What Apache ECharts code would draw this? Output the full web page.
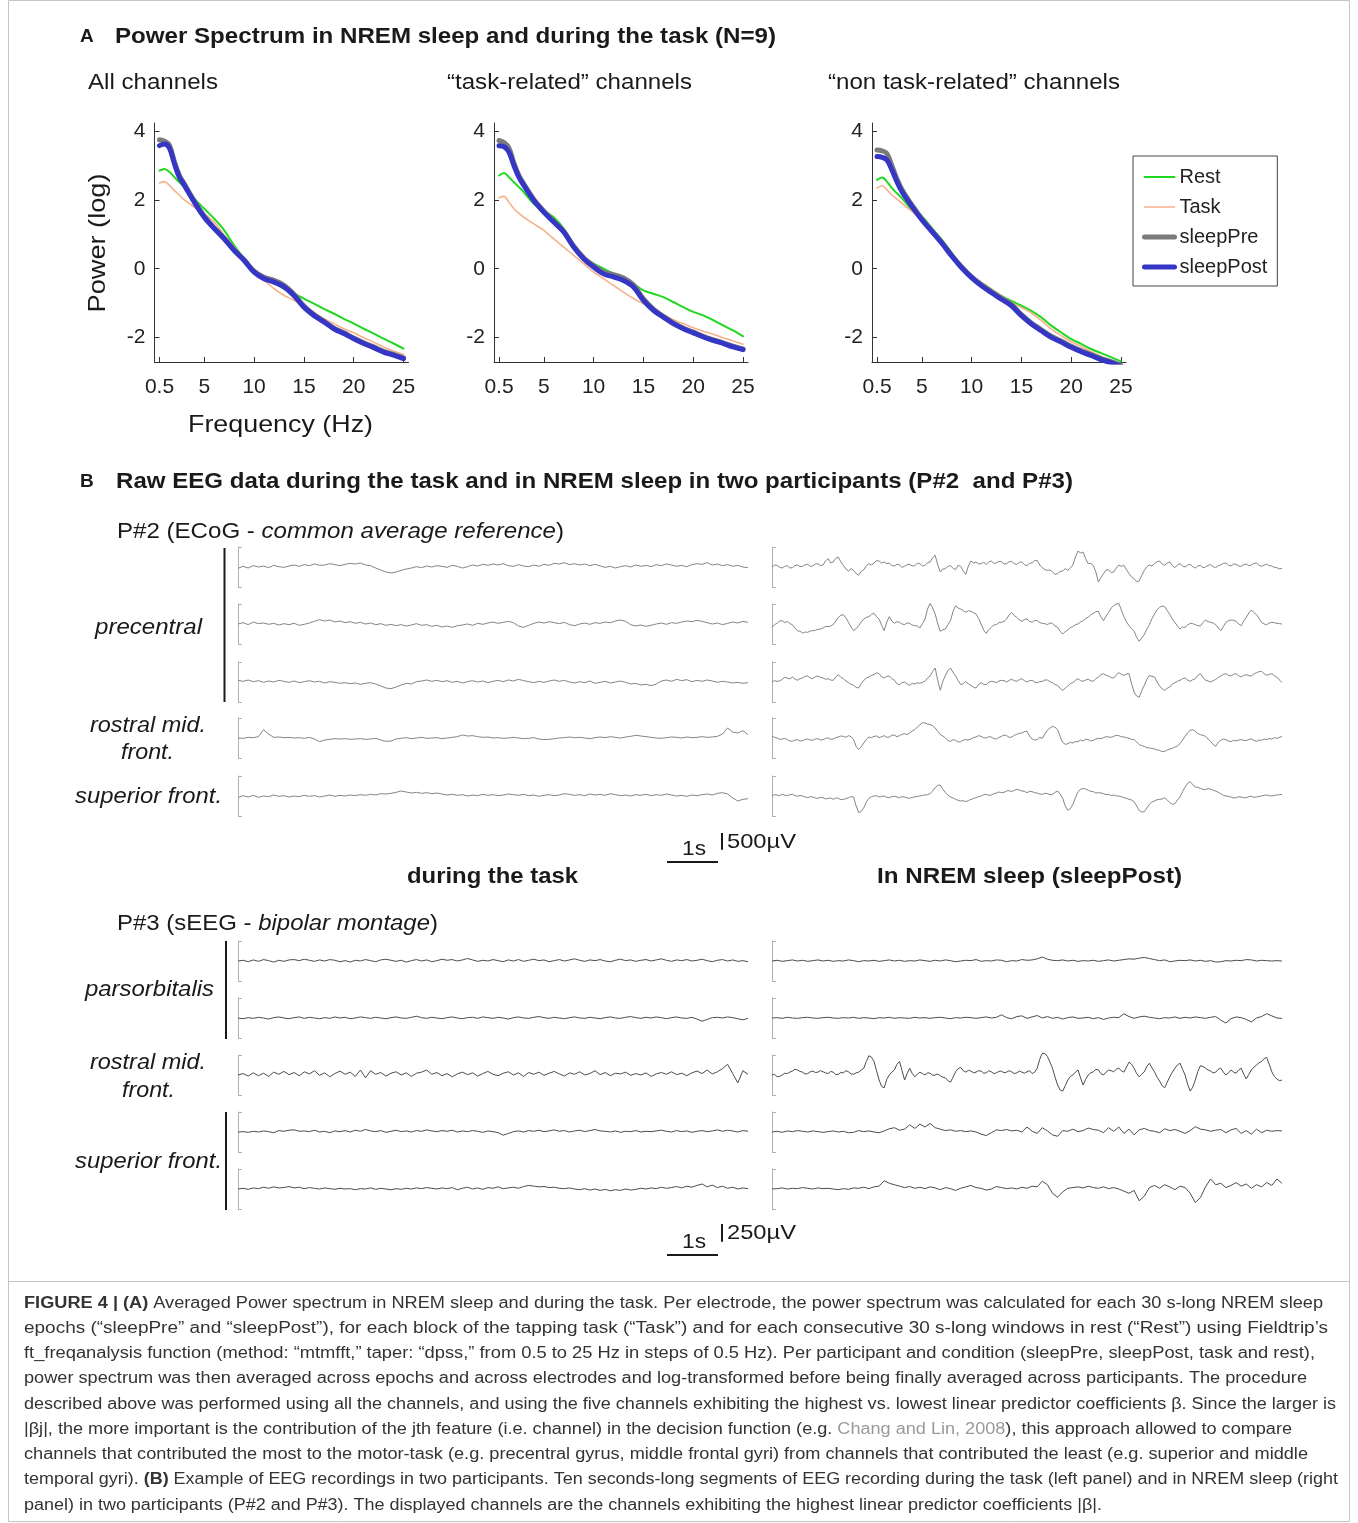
<!DOCTYPE html>
<html><head><meta charset="utf-8">
<script src="https://cdn.jsdelivr.net/npm/echarts@6/dist/echarts.min.js"></script>
<style>html,body{margin:0;padding:0;background:#fff}#c{width:1358px;height:1523px}</style>
</head><body><div id="c"></div>
<script>
// ---------- Panel A: power spectra (log power) ----------
const freqs = [0.5,1,1.5,2,2.5,3,4,5,6,7,8,9,10,11,12,13,14,15,16,17,18,19,20,21,22,23,24,25];
const freqTicks = [0.5,5,10,15,20,25];
const powerTicks = [-2,0,2,4];
// All channels
const allRest = [2.86,2.91,2.82,2.67,2.52,2.38,2.04,1.75,1.46,1.12,0.68,0.29,-0.05,-0.24,-0.39,-0.58,-0.73,-0.87,-1.02,-1.17,-1.31,-1.46,-1.60,-1.75,-1.89,-2.04,-2.18,-2.33];
const allTask = [2.50,2.54,2.43,2.28,2.15,2.01,1.80,1.60,1.36,0.97,0.63,0.29,-0.10,-0.34,-0.58,-0.78,-0.92,-1.12,-1.26,-1.46,-1.60,-1.75,-1.87,-2.01,-2.14,-2.28,-2.40,-2.50];
const allPre  = [3.76,3.72,3.60,3.12,2.72,2.47,1.97,1.53,1.19,0.89,0.55,0.26,-0.07,-0.25,-0.34,-0.48,-0.74,-1.09,-1.34,-1.53,-1.73,-1.87,-2.02,-2.16,-2.28,-2.41,-2.50,-2.60];
const allPost = [3.59,3.64,3.52,3.06,2.67,2.43,1.94,1.50,1.17,0.87,0.53,0.24,-0.10,-0.29,-0.39,-0.53,-0.78,-1.12,-1.36,-1.55,-1.75,-1.89,-2.04,-2.18,-2.30,-2.43,-2.52,-2.62];
// "task-related" channels
const taskRest = [2.72,2.79,2.67,2.52,2.38,2.23,1.89,1.70,1.50,1.17,0.68,0.34,0.15,0.00,-0.15,-0.29,-0.44,-0.63,-0.73,-0.83,-0.97,-1.12,-1.26,-1.36,-1.50,-1.65,-1.80,-1.97];
const taskTask = [2.07,2.11,1.94,1.75,1.62,1.50,1.31,1.12,0.87,0.63,0.39,0.15,-0.10,-0.29,-0.49,-0.68,-0.87,-1.02,-1.17,-1.33,-1.49,-1.60,-1.72,-1.82,-1.91,-2.01,-2.11,-2.20];
const taskPre  = [3.74,3.68,3.52,3.08,2.72,2.47,2.02,1.68,1.38,1.09,0.66,0.32,0.09,-0.10,-0.17,-0.27,-0.47,-0.88,-1.18,-1.39,-1.58,-1.73,-1.85,-1.97,-2.07,-2.16,-2.26,-2.34];
const taskPost = [3.59,3.56,3.40,3.01,2.67,2.43,1.99,1.65,1.36,1.07,0.63,0.29,0.05,-0.15,-0.24,-0.34,-0.53,-0.92,-1.21,-1.41,-1.60,-1.75,-1.87,-1.99,-2.09,-2.18,-2.28,-2.36];
// "non task-related" channels
const nonRest = [2.59,2.66,2.54,2.35,2.20,2.06,1.72,1.53,1.19,0.85,0.46,0.08,-0.21,-0.41,-0.60,-0.79,-0.94,-1.08,-1.23,-1.42,-1.66,-1.86,-2.05,-2.19,-2.34,-2.46,-2.58,-2.70];
const nonTask = [2.35,2.42,2.30,2.15,2.03,1.91,1.67,1.43,1.14,0.80,0.42,0.08,-0.21,-0.41,-0.60,-0.79,-0.99,-1.13,-1.29,-1.51,-1.76,-1.95,-2.13,-2.26,-2.42,-2.55,-2.68,-2.80];
const nonPre  = [3.46,3.44,3.36,3.00,2.62,2.31,1.86,1.46,1.11,0.77,0.39,0.05,-0.24,-0.47,-0.67,-0.86,-1.05,-1.34,-1.58,-1.78,-1.97,-2.11,-2.26,-2.39,-2.50,-2.62,-2.71,-2.82];
const nonPost = [3.27,3.25,3.17,2.88,2.54,2.25,1.82,1.43,1.09,0.75,0.37,0.03,-0.26,-0.50,-0.70,-0.89,-1.08,-1.37,-1.61,-1.81,-2.00,-2.14,-2.29,-2.42,-2.53,-2.65,-2.74,-2.85];
const conditionNames = ['Rest','Task','sleepPre','sleepPost'];

// ---------- Panel B: raw EEG, 10 s segments (µV), evenly sampled over the 10 s ----------
// P#2 during the task (0.1 s steps)
const p2TaskCh1 = [-40,20,-30,40,0,30,-20,50,10,-10,30,60,20,70,40,90,50,60,100,70,40,80,110,90,120,60,40,-30,-90,-150,-180,-150,-100,-60,-30,10,-20,30,0,40,20,-10,50,20,-30,10,60,30,80,50,90,60,100,40,20,70,30,10,60,20,80,50,110,90,130,70,100,60,90,40,80,30,-10,20,-30,10,40,0,60,20,50,10,70,40,90,60,20,50,10,70,100,80,130,60,90,40,70,20,50,0,-20];
const p2TaskCh2 = [0,40,-20,60,10,30,-10,20,-30,10,-20,20,-40,-10,30,80,130,90,120,60,90,40,70,20,50,0,30,-20,10,-40,-10,-50,-20,-60,-30,10,-40,-20,-70,-40,-90,-60,-100,-50,-30,0,-40,20,-10,30,60,20,50,80,40,-60,-100,-40,20,60,30,70,40,10,50,-20,-50,0,30,-10,40,20,60,40,90,120,80,-20,-60,-30,-70,-40,0,30,-10,40,20,60,90,70,110,80,40,0,30,-20,20,60,30,80,50];
const p2TaskCh3 = [50,20,60,10,40,-10,30,0,50,20,-10,30,-20,10,40,0,20,-30,10,-10,-40,-20,-50,-30,-70,-40,-20,-60,-120,-180,-200,-150,-90,-40,-60,10,30,60,20,50,10,40,-10,20,-30,10,40,0,30,-20,20,50,10,60,30,80,40,10,-20,20,-10,30,60,20,50,0,-30,10,-20,30,-40,-10,20,-30,0,30,-10,-60,-40,-90,-70,-110,-60,30,60,20,80,40,70,10,50,20,60,30,-10,20,0,-30,-10,-40,-20];
const p2TaskCh4 = [0,-10,20,10,40,250,120,20,30,10,20,0,10,-10,20,-30,-110,-60,-40,-20,-30,-20,-40,-30,-20,-40,-30,-10,-60,-100,-90,-30,-10,10,-20,0,20,-10,0,10,-20,0,20,40,90,60,70,40,20,30,0,10,-10,0,20,0,-20,-10,10,-30,-50,-40,-20,0,10,30,10,20,0,-20,10,30,10,40,20,0,30,50,80,60,40,20,0,-10,10,30,20,0,30,10,20,40,20,30,50,120,300,180,150,220,100];
const p2TaskCh5 = [-50,10,-30,20,-40,0,-20,30,-10,10,-30,0,-20,20,-10,10,-30,0,30,-10,20,0,30,10,40,20,50,30,70,60,80,110,150,120,90,110,80,100,70,90,60,30,50,20,40,0,30,10,50,20,40,10,30,60,40,20,50,10,30,-10,20,40,10,30,70,50,20,40,10,60,30,50,20,70,40,10,30,0,40,20,50,10,40,20,60,30,0,20,-10,30,10,40,60,30,80,100,60,-60,-150,-100,-80];
// P#2 in NREM sleep (sleepPost) (0.05 s steps)
const p2SleepCh1 = [0,60,50,-10,-30,20,40,-30,-20,40,60,10,20,70,80,20,30,90,100,40,60,180,250,120,150,260,300,150,50,-60,-120,-50,-100,-200,-250,-130,-80,40,100,60,120,190,180,120,150,100,120,40,30,80,60,-10,20,70,80,30,40,110,100,30,50,130,150,280,350,60,-150,-60,-50,20,40,-40,-80,50,20,-120,-220,30,180,120,150,90,100,140,80,150,180,110,120,170,160,90,100,160,170,100,80,140,150,70,40,110,120,190,200,60,-20,-80,-100,-90,-150,-220,-200,-130,-120,-50,-100,-30,60,300,480,420,450,250,100,110,50,-150,-450,-320,-200,-90,-80,-170,-150,-30,60,20,50,-80,-200,-300,-350,-440,-420,-250,-100,10,60,30,100,160,180,90,50,120,150,40,-20,60,100,30,0,60,80,10,-30,30,50,-20,0,50,70,10,-20,40,60,110,120,60,30,90,80,30,20,70,90,40,60,110,120,50,20,60,80,40,30,-10,-20,-60,-40];
const p2SleepCh2 = [-100,-20,20,90,100,40,80,10,-20,-130,-200,-220,-270,-240,-250,-210,-200,-190,-160,-150,-120,-70,-80,-60,-20,90,200,260,280,180,50,-90,-200,-140,-50,60,150,200,220,290,320,220,150,-40,-200,60,220,90,20,70,50,0,-20,30,20,-30,-50,-60,-120,10,150,450,620,480,300,0,-220,-170,-150,-20,100,380,550,480,450,400,350,400,380,340,300,170,0,-180,-280,-170,-100,-30,-20,40,50,80,150,270,350,250,200,120,80,130,150,80,50,110,100,40,20,10,-20,30,20,-60,-100,-220,-300,-230,-180,-110,-80,-20,0,60,100,170,200,280,320,370,380,210,100,240,350,480,550,600,620,420,220,70,-50,-140,-220,-400,-520,-420,-320,-150,-20,160,300,430,500,540,520,400,280,150,50,-60,-150,-90,-100,-30,20,10,-20,-50,-60,40,120,70,50,30,-20,-120,-200,-80,50,100,120,110,80,0,-50,90,200,330,420,340,280,170,50,0,-20,30,50,40,20,10,0];
const p2SleepCh3 = [0,40,20,30,80,140,120,90,150,90,50,100,120,170,180,120,100,160,180,140,120,80,100,60,50,150,220,140,100,30,-20,-70,-100,-160,-180,-50,50,120,150,200,220,280,250,160,120,170,180,100,50,-50,-80,-20,0,-60,-100,-40,-60,-20,-40,-10,20,120,180,320,420,50,-250,20,200,340,420,290,180,40,-80,-50,20,-60,-100,-160,-180,-80,-20,-70,-80,-10,20,10,-20,30,50,40,0,50,80,40,20,70,100,40,0,40,50,0,-20,10,20,60,60,10,-20,-80,-100,-190,-250,-180,-120,-50,-20,50,100,40,20,60,80,40,20,100,150,220,250,200,180,130,120,210,280,230,200,240,250,-50,-300,-420,-460,-260,-100,80,200,170,150,0,-120,-210,-250,-190,-150,-60,-20,20,50,100,120,60,20,70,100,200,250,140,50,30,0,40,80,140,180,230,250,200,180,230,250,190,150,200,220,190,180,240,280,310,320,250,200,230,250,190,150,60,-20];
const p2SleepCh4 = [50,20,0,-40,-30,-10,-50,-90,-100,-60,-50,-90,-80,-40,-30,-60,-70,-30,-20,-60,-50,-10,0,-40,-30,10,30,60,50,20,70,40,-50,-250,-350,-260,-150,-40,30,10,50,60,10,40,70,20,30,80,90,40,70,110,130,100,150,210,250,330,400,460,450,420,400,370,300,200,100,60,0,-80,-100,-50,-70,-120,-110,-60,-50,-60,-30,10,30,70,50,10,0,40,30,-20,-30,20,50,90,70,20,30,80,110,140,150,190,200,60,-30,-60,-50,20,-10,120,230,300,350,320,250,40,-130,-190,-170,-130,-150,-110,-110,-60,-90,-40,-50,-90,-70,-30,-10,-20,10,40,30,20,50,80,70,40,30,10,-10,-40,-50,-120,-200,-230,-250,-290,-300,-310,-330,-360,-370,-410,-400,-360,-330,-310,-270,-240,-170,-60,50,160,230,250,200,130,100,80,50,-30,-100,-200,-250,-130,-70,-30,-50,-90,-110,-70,-90,-60,-50,-70,-80,-40,-30,-70,-100,-60,-70,-30,-50,-20,-30,10,-10,20,50];
const p2SleepCh5 = [0,40,30,10,50,20,10,40,50,10,-10,20,0,-30,-50,-20,-30,-60,-70,-40,-50,-90,-70,-60,-100,-60,-70,-110,-100,-80,-50,-20,-30,-300,-500,-460,-350,-180,-70,-20,0,10,-30,-10,0,-40,-50,-20,-10,-30,-50,-20,-30,-60,-70,-40,-30,-10,0,20,30,40,70,150,250,320,330,200,100,30,-30,-60,-100,-130,-150,-140,-170,-140,-100,-80,-50,-20,0,40,50,20,30,70,90,120,100,110,150,160,130,170,200,180,150,140,100,140,130,100,90,60,50,80,70,40,50,110,150,60,-70,-300,-430,-380,-250,-50,130,200,230,210,170,140,130,90,100,90,70,40,50,10,30,0,0,-20,-50,-70,-100,-120,-170,-300,-430,-480,-470,-360,-250,-180,-150,-110,-100,-90,-50,-120,-200,-250,-230,-120,-30,130,270,380,430,340,270,260,230,200,190,220,210,170,150,110,70,20,0,-10,-30,-60,-50,-20,-30,-50,-50,-20,-10,-40,-30,-10,0,20,30,10,0,20,30,40,50];
// P#3 during the task (0.1 s steps)
const p3TaskCh1 = [0,10,-10,15,-5,20,5,-15,10,-5,15,20,5,25,10,-5,15,0,20,10,-10,5,-15,10,0,20,5,-10,15,25,10,-5,10,-15,5,20,0,15,-10,5,25,10,20,0,15,35,15,-5,10,0,20,5,-10,15,0,20,-5,10,25,5,15,-10,5,20,0,15,30,10,-5,15,5,20,0,-10,10,25,5,15,-5,10,20,0,15,30,10,-5,15,5,20,0,10,25,5,-10,10,20,0,15,-5,5,-10];
const p3TaskCh2 = [0,-10,5,-5,10,0,-15,5,15,0,-10,5,15,-5,10,0,-10,5,-5,15,0,10,-10,0,15,5,-5,10,0,-10,5,15,0,-5,10,25,5,-5,10,0,-10,5,15,0,-10,5,10,-5,15,5,-5,10,0,-15,5,15,0,-5,10,20,5,-5,10,0,-10,5,15,0,-5,10,0,-10,5,15,0,-5,10,20,5,-5,10,0,15,5,-10,5,15,0,-5,10,-15,-45,-20,5,10,0,15,5,-10,-25,-5];
const p3TaskCh3 = [0,20,-15,30,-10,25,-20,40,10,50,5,35,-10,45,15,60,-5,30,-25,20,55,10,40,-20,70,-40,60,10,35,-15,25,45,0,30,-20,25,40,70,10,35,-10,20,-25,15,40,5,30,-15,20,50,10,-10,25,45,0,30,-20,35,10,40,-5,25,50,15,-15,30,10,45,0,20,60,5,35,-10,25,15,40,-5,20,0,30,-20,15,35,10,45,5,25,-10,30,55,20,70,15,45,90,150,20,-110,60,10];
const p3TaskCh4 = [0,5,-5,10,0,15,5,-10,20,10,25,30,10,15,5,25,0,10,-10,15,5,20,0,25,10,35,15,5,20,-5,10,25,5,15,0,20,10,30,15,5,20,10,25,0,15,5,20,10,-5,15,5,-10,-45,-20,5,15,0,20,10,25,5,15,30,10,20,0,15,25,5,20,35,15,10,0,15,-5,10,5,20,0,10,5,15,25,10,0,20,5,15,-5,10,20,5,15,30,10,25,15,0,20,10];
const p3TaskCh5 = [0,10,-5,15,5,25,10,30,15,20,35,15,25,5,20,10,0,15,5,-5,10,0,5,-10,5,0,15,-5,10,0,-10,5,-5,10,0,15,5,20,10,0,15,5,20,-10,10,25,0,15,-5,20,10,30,5,15,25,10,35,50,40,30,35,20,25,10,5,15,0,-10,5,-15,0,-20,-5,-25,-10,-20,0,-15,-5,10,0,15,5,25,10,20,35,15,40,25,50,70,30,55,20,40,10,25,0,15,5];
// P#3 in NREM sleep (sleepPost)
const p3SleepCh1 = [0,10,-5,5,15,0,10,-5,5,15,0,10,-5,5,0,15,5,-10,5,0,10,-5,5,15,0,10,-5,5,0,15,5,-5,10,0,15,5,-10,0,10,5,20,-5,5,0,15,10,-10,5,0,20,10,15,30,55,25,10,5,15,0,10,-5,5,0,10,-5,5,15,0,10,20,30,25,40,50,35,20,5,15,-10,0,10,5,15,0,10,-5,5,-15,-10,5,0,10,5,20,15,0,10,5,0,5,0];
const p3SleepCh2 = [0,5,-5,10,0,-5,5,10,0,-5,5,10,0,-5,5,0,10,-5,5,0,-10,5,0,10,-5,5,0,-5,10,0,5,-5,5,10,0,-10,5,0,10,5,-5,5,15,0,10,45,5,-10,20,30,-5,15,35,0,20,-5,10,-15,5,15,-5,0,10,-10,5,-20,0,10,5,60,20,-5,15,25,10,0,-10,5,0,15,-5,10,0,15,5,-5,10,20,-30,-70,-10,15,5,-20,-55,0,20,60,30,0,-5];
const p3SleepCh3 = [0,10,-25,-20,0,25,20,40,55,80,70,50,40,15,20,45,55,35,40,60,45,30,20,50,40,5,10,35,30,60,45,15,10,30,40,70,95,190,270,250,190,60,-70,-160,-180,-60,0,40,70,150,190,60,-70,20,95,20,-25,10,40,20,0,30,25,-5,0,15,-10,-30,-40,-80,-100,-30,45,90,105,60,40,65,55,30,40,60,55,25,30,60,45,20,30,50,55,30,40,60,45,20,30,55,40,25,45,60,20,40,95,220,305,300,260,180,95,-30,-140,-210,-225,-150,-70,-20,0,40,70,-40,-140,-60,0,30,45,80,70,20,0,40,70,60,45,80,95,60,40,110,180,150,95,20,-25,10,45,120,165,100,45,-30,-85,-150,-180,-100,-25,40,95,140,165,80,0,-130,-225,-170,-70,50,130,120,95,70,55,30,40,80,95,40,0,30,70,40,25,70,95,10,-55,10,70,110,140,170,190,230,245,150,45,-20,-55,-80,-70];
const p3SleepCh4 = [0,10,-5,15,5,20,10,0,15,5,-5,5,15,0,10,-10,-5,20,5,15,0,-10,15,45,60,25,40,100,50,110,70,120,60,40,20,30,10,20,5,15,0,-30,-50,-10,30,20,35,15,25,0,70,10,-20,60,15,-40,-60,20,10,40,5,20,55,35,25,-10,60,10,70,-20,40,-40,30,50,20,10,-10,45,20,35,10,-20,20,75,40,30,10,25,35,-10,30,50,-20,20,-30,40,-10,25,10,20,15];
const p3SleepCh5 = [0,5,15,0,10,5,20,10,0,15,5,10,0,-10,5,-5,15,10,25,5,30,40,115,80,60,40,20,35,10,25,5,30,15,-10,20,5,-20,10,30,50,20,10,-15,0,35,20,5,15,0,25,10,40,30,110,60,-60,-115,-40,10,20,30,15,40,20,10,30,5,20,0,-30,-60,-20,-165,-100,20,50,10,60,30,-10,40,20,-60,-190,-120,30,140,60,80,20,50,90,40,70,10,60,30,90,50,140,80];

const SEGMENT_SECONDS = 10;
const P2_HALF = 600;   // µV half-height of each bracket (P#2, scale bar 500 µV)
const P3_HALF = 280;   // µV half-height of each bracket (P#3, scale bar 250 µV)

// ---------- helpers ----------
const FAM = '"Liberation Sans", Arial, Helvetica, sans-serif';
const F = (s, b, i) => (i ? 'italic ' : '') + (b ? 'bold ' : '') + s + 'px ' + FAM;
const mctx = document.createElement('canvas').getContext('2d');
const tw = (t, f) => { mctx.font = f; return mctx.measureText(t).width; };
function label(segs, x, y, target, opt) {
  opt = opt || {};
  let w = 0; const ch = [];
  segs.forEach(s => {
    ch.push({ type: 'text', x: w, y: 0, silent: true,
      style: { text: s[0], font: s[1], fill: s[2] || '#1a1a1a', textAlign: 'left', verticalAlign: 'middle' } });
    w += tw(s[0], s[1]);
  });
  if (opt.center) ch.forEach(c => { c.x -= w / 2; });
  const g = { type: 'group', x: x, y: y, scaleX: target ? target / w : (opt.sx || 1), children: ch };
  if (opt.rotate) g.rotation = opt.rotate;
  return g;
}

const chart = echarts.init(document.getElementById('c'), null, { renderer: 'canvas' });

const grids = [], xAxes = [], yAxes = [], series = [];
const STYLE = {
  Rest: { color: '#20d820', width: 2 },
  Task: { color: '#f6b18b', width: 1.6 },
  sleepPre: { color: '#7b7b7b', width: 5 },
  sleepPost: { color: '#3535c6', width: 5 }
};
const panelData = [[allRest, allTask, allPre, allPost], [taskRest, taskTask, taskPre, taskPost], [nonRest, nonTask, nonPre, nonPost]];
const panelLeft = [154.5, 494, 872];
panelData.forEach((arrs, p) => {
  grids.push({ left: panelLeft[p], top: 123, width: 254, height: 239, outerBoundsMode: 'none' });
  const axLine = { show: true, onZero: false, lineStyle: { color: '#333', width: 1 } };
  xAxes.push({ gridIndex: p, type: 'value', min: 0, max: 25.5, position: 'bottom', axisLine: axLine,
    axisTick: { show: true, inside: true, length: 5, customValues: freqTicks, lineStyle: { color: '#333' } },
    axisLabel: { customValues: freqTicks, fontSize: 21, fontFamily: FAM, color: '#222', margin: 15 },
    splitLine: { show: false } });
  yAxes.push({ gridIndex: p, type: 'value', min: -2.72, max: 4.25, position: 'left', axisLine: axLine,
    axisTick: { show: true, inside: true, length: 5, customValues: powerTicks, lineStyle: { color: '#333' } },
    axisLabel: { customValues: powerTicks, fontSize: 21, fontFamily: FAM, color: '#222', margin: 9 },
    splitLine: { show: false } });
  arrs.forEach((vals, k) => {
    const nm = conditionNames[k];
    series.push({ name: nm, type: 'line', xAxisIndex: p, yAxisIndex: p, smooth: 0.35,
      symbol: 'none', showSymbol: false, clip: true,
      lineStyle: { color: STYLE[nm].color, width: STYLE[nm].width, cap: 'round', join: 'round' },
      itemStyle: { color: STYLE[nm].color },
      data: freqs.map((f, i) => [f, vals[i]]) });
  });
});

// EEG trace grids
const P2_CENTERS = [567, 624, 682, 738, 796];
const P3_CENTERS = [961, 1018, 1075, 1132, 1189];
const LEFT_X = 238, RIGHT_X = 772, TRACE_W = 510, TRACE_H = 40;
function addTrace(vals, left, center, half, color) {
  const gi = grids.length;
  grids.push({ left: left, top: center - TRACE_H / 2, width: TRACE_W, height: TRACE_H, outerBoundsMode: 'none' });
  xAxes.push({ gridIndex: gi, type: 'value', min: 0, max: SEGMENT_SECONDS, show: false });
  yAxes.push({ gridIndex: gi, type: 'value', min: -half, max: half,
    axisLine: { show: true, onZero: false, lineStyle: { color: '#b0b0b0', width: 1 } },
    axisTick: { show: true, inside: true, length: 4, customValues: [-half, half], lineStyle: { color: '#b0b0b0', width: 1 } },
    axisLabel: { show: false }, splitLine: { show: false } });
  const dt = SEGMENT_SECONDS / (vals.length - 1);
  series.push({ type: 'line', xAxisIndex: gi, yAxisIndex: gi, symbol: 'none', showSymbol: false, clip: false,
    silent: true, lineStyle: { color: color, width: 1 },
    data: vals.map((v, i) => [i * dt, v]) });
}
[p2TaskCh1, p2TaskCh2, p2TaskCh3, p2TaskCh4, p2TaskCh5].forEach((v, i) => addTrace(v, LEFT_X, P2_CENTERS[i], P2_HALF, '#858585'));
[p2SleepCh1, p2SleepCh2, p2SleepCh3, p2SleepCh4, p2SleepCh5].forEach((v, i) => addTrace(v, RIGHT_X, P2_CENTERS[i], P2_HALF, '#858585'));
[p3TaskCh1, p3TaskCh2, p3TaskCh3, p3TaskCh4, p3TaskCh5].forEach((v, i) => addTrace(v, LEFT_X, P3_CENTERS[i], P3_HALF, '#4d4d4d'));
[p3SleepCh1, p3SleepCh2, p3SleepCh3, p3SleepCh4, p3SleepCh5].forEach((v, i) => addTrace(v, RIGHT_X, P3_CENTERS[i], P3_HALF, '#4d4d4d'));

// scale bars derived from the trace scales
const pxPerSec = TRACE_W / SEGMENT_SECONDS;
const p2Bar = 500 / (2 * P2_HALF) * TRACE_H;
const p3Bar = 250 / (2 * P3_HALF) * TRACE_H;

const K = '#1a1a1a';
const G = [];
// frame
G.push({ type: 'rect', shape: { x: 8.5, y: 0.5, width: 1341, height: 1521 }, style: { fill: 'none', stroke: '#c4c4c4', lineWidth: 1 }, silent: true });
G.push({ type: 'line', shape: { x1: 8.5, y1: 1281.5, x2: 1349.5, y2: 1281.5 }, style: { stroke: '#c4c4c4', lineWidth: 1 }, silent: true });
// Panel A texts
G.push(label([['A', F(19, true)]], 80, 37));
G.push(label([['Power Spectrum in NREM sleep and during the task (N=9)', F(22, true)]], 115, 37, 661));
G.push(label([['All channels', F(22)]], 88, 83, 130));
G.push(label([['\u201Ctask-related\u201D channels', F(22)]], 447, 83, 245));
G.push(label([['\u201Cnon task-related\u201D channels', F(22)]], 828, 83, 292));
G.push(label([['Power (log)', F(24)]], 98, 243, 139, { center: true, rotate: Math.PI / 2 }));
G.push(label([['Frequency (Hz)', F(24)]], 188, 425, 185));
// Panel B texts
G.push(label([['B', F(19, true)]], 80, 482));
G.push(label([['Raw EEG data during the task and in NREM sleep in two participants (P#2  and P#3)', F(22, true)]], 116, 482, 957));
G.push(label([['P#2 (ECoG - ', F(22)], ['common average reference', F(22, false, true)], [')', F(22)]], 117, 532, 447));
G.push(label([['precentral', F(22, false, true)]], 95, 628, 107));
G.push(label([['rostral mid.', F(22, false, true)]], 90, 726, 116));
G.push(label([['front.', F(22, false, true)]], 121, 753, 53));
G.push(label([['superior front.', F(22, false, true)]], 75, 797, 147));
G.push(label([['during the task', F(22, true)]], 407, 877, 171));
G.push(label([['In NREM sleep (sleepPost)', F(22, true)]], 877, 877, 305));
G.push(label([['P#3 (sEEG - ', F(22)], ['bipolar montage', F(22, false, true)], [')', F(22)]], 117, 924, 321));
G.push(label([['parsorbitalis', F(22, false, true)]], 85, 990, 129));
G.push(label([['rostral mid.', F(22, false, true)]], 90, 1063, 116));
G.push(label([['front.', F(22, false, true)]], 122, 1091, 53));
G.push(label([['superior front.', F(22, false, true)]], 75, 1162, 147));
// group bars
[[224.5, 548, 702], [226, 941, 1039], [226, 1112, 1210]].forEach(b => {
  G.push({ type: 'line', shape: { x1: b[0], y1: b[1], x2: b[0], y2: b[2] }, style: { stroke: K, lineWidth: 2 }, silent: true });
});
// scale bars
function scaleBar(yLine, yTop, barLen, txt) {
  G.push({ type: 'line', shape: { x1: 667, y1: yLine, x2: 667 + pxPerSec, y2: yLine }, style: { stroke: K, lineWidth: 2 }, silent: true });
  G.push({ type: 'line', shape: { x1: 722, y1: yTop, x2: 722, y2: yTop + barLen }, style: { stroke: K, lineWidth: 2 }, silent: true });
  G.push(label([['1s', F(21)]], 682, yLine - 13, 24));
  G.push(label([[txt, F(21)]], 727, yTop + 9, 69));
}
scaleBar(862, 833, p2Bar, '500\u00B5V');
scaleBar(1255, 1224, p3Bar, '250\u00B5V');

// caption
const CF = F(16), CB = F(16, true), CC = '#333333';
const capLines = [
  [['FIGURE 4 | (A)', CB, CC], [' Averaged Power spectrum in NREM sleep and during the task. Per electrode, the power spectrum was calculated for each 30 s-long NREM sleep', CF, CC]],
  [['epochs (\u201CsleepPre\u201D and \u201CsleepPost\u201D), for each block of the tapping task (\u201CTask\u201D) and for each consecutive 30 s-long windows in rest (\u201CRest\u201D) using Fieldtrip\u2019s', CF, CC]],
  [['ft_freqanalysis function (method: \u201Cmtmfft,\u201D taper: \u201Cdpss,\u201D from 0.5 to 25 Hz in steps of 0.5 Hz). Per participant and condition (sleepPre, sleepPost, task and rest),', CF, CC]],
  [['power spectrum was then averaged across epochs and across electrodes and log-transformed before being finally averaged across participants. The procedure', CF, CC]],
  [['described above was performed using all the channels, and using the five channels exhibiting the highest vs. lowest linear predictor coefficients \u03B2. Since the larger is', CF, CC]],
  [['|\u03B2j|, the more important is the contribution of the jth feature (i.e. channel) in the decision function (e.g. ', CF, CC], ['Chang and Lin, 2008', CF, '#9a9a9a'], ['), this approach allowed to compare', CF, CC]],
  [['channels that contributed the most to the motor-task (e.g. precentral gyrus, middle frontal gyri) from channels that contributed the least (e.g. superior and middle', CF, CC]],
  [['temporal gyri). ', CF, CC], ['(B)', CB, CC], [' Example of EEG recordings in two participants. Ten seconds-long segments of EEG recording during the task (left panel) and in NREM sleep (right', CF, CC]],
  [['panel) in two participants (P#2 and P#3). The displayed channels are the channels exhibiting the highest linear predictor coefficients |\u03B2|.', CF, CC]]
];
const capY = [1304, 1329, 1354, 1379, 1405, 1430, 1455, 1480, 1506];
const capEnd = [1323, 1328, 1315, 1307, 1336, 1292, 1308, 1338, 1102];
capLines.forEach((segs, i) => G.push(label(segs, 24, capY[i], capEnd[i] - 24)));

chart.setOption({
  animation: false,
  backgroundColor: '#ffffff',
  textStyle: { fontFamily: FAM },
  grid: grids,
  xAxis: xAxes,
  yAxis: yAxes,
  legend: {
    data: conditionNames.map(nm => ({ name: nm, lineStyle: { width: STYLE[nm].width, color: STYLE[nm].color } })),
    orient: 'vertical', left: 1133, top: 156,
    padding: [10, 10, 8, 9], itemGap: 8, itemWidth: 30, itemHeight: 22,
    borderColor: '#444', borderWidth: 1, backgroundColor: '#fff', borderRadius: 0,
    itemStyle: { opacity: 0 },
    textStyle: { fontSize: 20, fontFamily: FAM, color: '#222', lineHeight: 22 },
    selectedMode: false
  },
  series: series,
  graphic: G
});
</script>
</body></html>
